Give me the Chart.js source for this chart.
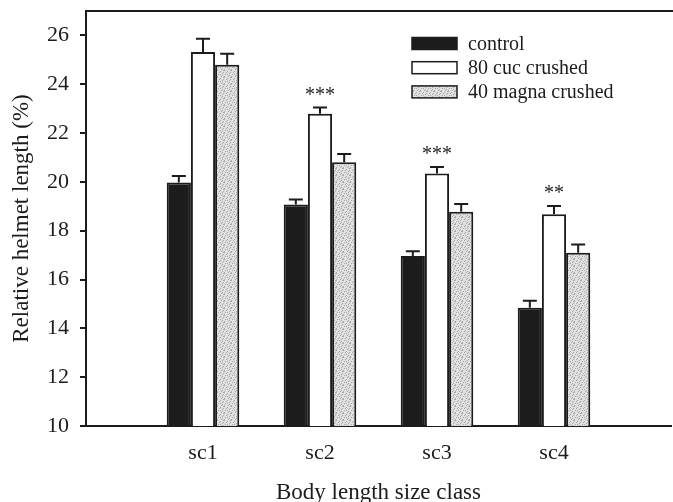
<!DOCTYPE html>
<html>
<head>
<meta charset="utf-8">
<script src="https://cdn.jsdelivr.net/npm/chart.js@4"></script>
<style>
  html, body { margin: 0; padding: 0; background: #fff; overflow: hidden; }
  #wrap { width: 673px; height: 502px; }
</style>
</head>
<body>
<div id="wrap"><canvas id="chart"></canvas></div>
<script>
// values
var categories = ['sc1', 'sc2', 'sc3', 'sc4'];
var seriesNames = ['control', '80 cuc crushed', '40 magna crushed'];
var control = [19.97, 19.07, 16.96, 14.84];
var cucCrushed = [25.32, 22.79, 20.34, 18.67];
var magnaCrushed = [24.8, 20.8, 18.78, 17.1];
var controlErr = [0.27, 0.21, 0.2, 0.29];
var cucErr = [0.54, 0.26, 0.27, 0.34];
var magnaErr = [0.45, 0.34, 0.31, 0.33];
var signif = ['', '***', '***', '**'];
var yTicks = [10, 12, 14, 16, 18, 20, 22, 24, 26];

var serif = "'Liberation Serif', 'DejaVu Serif', serif";
var ink = '#1c1c1c';

// stippled grey like the print
function stipple() {
    var c = document.createElement('canvas');
    c.width = 7; c.height = 7;
    var g = c.getContext('2d');
    g.fillStyle = '#e0e0e0';
    g.fillRect(0, 0, 7, 7);
    var dots = [[0,0],[3,1],[5,3],[1,4],[4,6],[6,0],[2,2],[0,6],[5,5],[3,4],[6,2]];
    g.fillStyle = '#a8a8a8';
    dots.forEach(function (d) { g.fillRect(d[0], d[1], 1, 1); });
    return g.createPattern(c, 'repeat');
}
var grey = stipple();

function pad(arr) { return [null].concat(arr, [null]); }

var labels = [''].concat(categories, [' ']);
var errors = [controlErr, cucErr, magnaErr];
var fills = [ink, '#ffffff', grey];

var extras = {
    id: 'extras',
    afterDatasetsDraw: function (chart) {
        var ctx = chart.ctx;
        var y = chart.scales.y;
        var area = chart.chartArea;
        ctx.save();
        ctx.strokeStyle = ink;
        ctx.lineWidth = 2;
        // error bars (upper only)
        chart.data.datasets.forEach(function (ds, i) {
            var meta = chart.getDatasetMeta(i);
            meta.data.forEach(function (bar, j) {
                var v = ds.data[j];
                if (v == null) return;
                var top = y.getPixelForValue(v + errors[i][j - 1]);
                ctx.beginPath();
                ctx.moveTo(bar.x, bar.y);
                ctx.lineTo(bar.x, top);
                ctx.moveTo(bar.x - 7, top);
                ctx.lineTo(bar.x + 7, top);
                ctx.stroke();
                if (i === 1 && signif[j - 1]) {
                    ctx.fillStyle = ink;
                    ctx.font = "20px " + serif;
                    ctx.textAlign = 'center';
                    ctx.textBaseline = 'middle';
                    ctx.fillText(signif[j - 1], bar.x, top - 12);
                }
            });
        });
        // top frame line
        ctx.beginPath();
        ctx.moveTo(area.left, area.top);
        ctx.lineTo(673, area.top);
        ctx.stroke();
        // legend inside the plot
        ctx.font = "20px " + serif;
        ctx.textAlign = 'left';
        ctx.textBaseline = 'middle';
        seriesNames.forEach(function (name, i) {
            var cy = 43.5 + i * 24.2;
            ctx.fillStyle = fills[i];
            ctx.fillRect(412, cy - 6, 45, 12);
            ctx.lineWidth = 1.5;
            ctx.strokeRect(412, cy - 6, 45, 12);
            ctx.fillStyle = ink;
            ctx.fillText(name, 468, cy + 1);
        });
        ctx.restore();
    }
};

new Chart(document.getElementById('chart'), {
    type: 'bar',
    data: {
        labels: labels,
        datasets: [
            { label: seriesNames[0], data: pad(control), backgroundColor: fills[0] },
            { label: seriesNames[1], data: pad(cucCrushed), backgroundColor: fills[1] },
            { label: seriesNames[2], data: pad(magnaCrushed), backgroundColor: fills[2] }
        ]
    },
    options: {
        responsive: true,
        maintainAspectRatio: false,
        animation: false,
        layout: { padding: { top: 11, right: 2, left: 0, bottom: 0 } },
        datasets: {
            bar: {
                borderColor: ink,
                borderWidth: 2,
                borderSkipped: false,
                categoryPercentage: 0.62,
                barPercentage: 1.0
            }
        },
        plugins: {
            legend: { display: false },
            tooltip: { enabled: false }
        },
        scales: {
            x: {
                type: 'category',
                offset: false,
                grid: { display: false, drawTicks: false },
                border: { display: true, color: ink, width: 2 },
                ticks: { color: ink, font: { family: serif, size: 22 }, padding: 14, autoSkip: false, maxRotation: 0 },
                title: { display: true, text: 'Body length size class', color: ink, font: { family: serif, size: 23 }, padding: { top: 10, bottom: -5 } },
                afterFit: function (s) { s.height = 76; s.paddingLeft = 0; s.paddingRight = 0; }
            },
            y: {
                min: 10,
                max: 27,
                grid: { drawOnChartArea: false, color: ink, lineWidth: 2, tickLength: 6 },
                border: { display: true, color: ink, width: 2 },
                ticks: { color: ink, font: { family: serif, size: 22 }, padding: 11 },
                afterBuildTicks: function (s) { s.ticks = yTicks.map(function (v) { return { value: v }; }); },
                title: { display: true, text: 'Relative helmet length (%)', color: ink, font: { family: serif, size: 23 }, padding: { top: 8, bottom: 2 } },
                afterFit: function (s) { s.width = 86; s.paddingTop = 0; s.paddingBottom = 0; }
            }
        }
    },
    plugins: [extras]
});
</script>
</body>
</html>
